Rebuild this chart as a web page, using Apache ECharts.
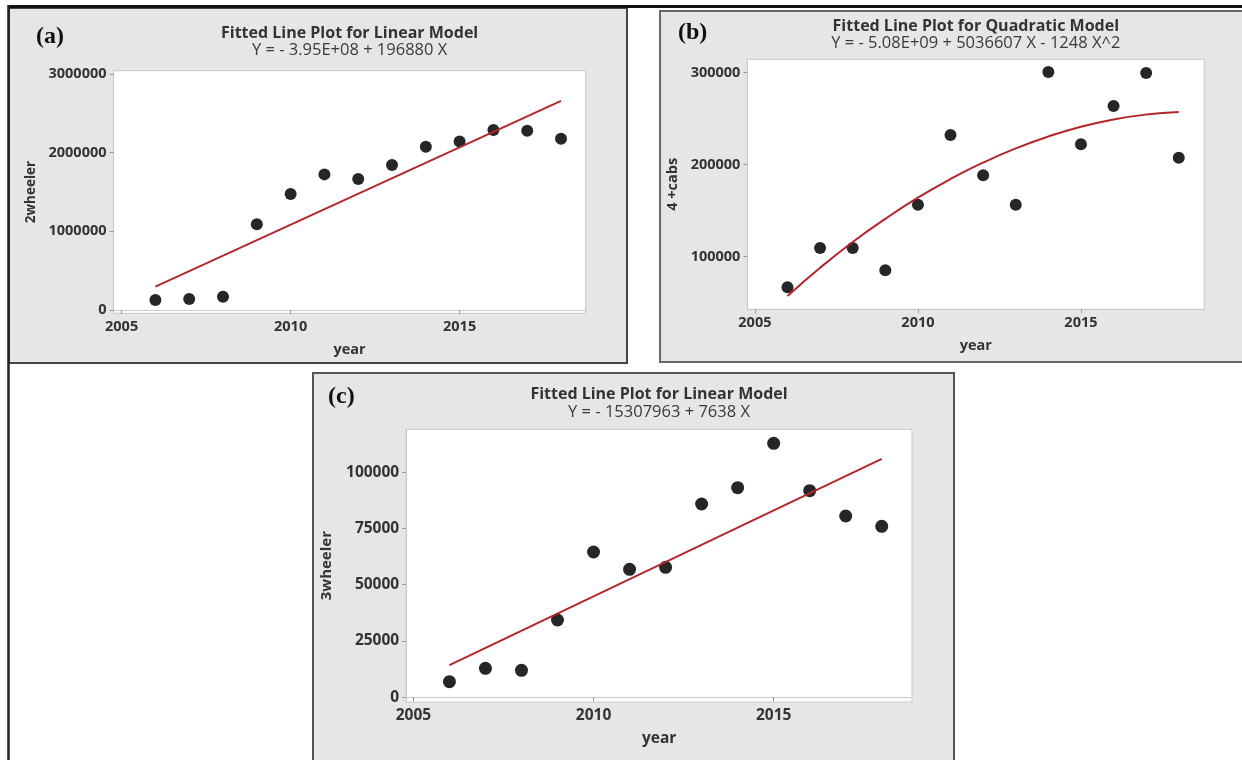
<!DOCTYPE html>
<html><head><meta charset="utf-8">
<script src="https://cdn.jsdelivr.net/npm/echarts@6/dist/echarts.min.js"></script>
<style>html,body{margin:0;padding:0;background:#fff}#c{width:1242px;height:760px}</style>
</head><body><div id="c"></div>
<script>
const years = [2006,2007,2008,2009,2010,2011,2012,2013,2014,2015,2016,2017,2018];
const twoWheeler = [127000,140000,169000,1089000,1474000,1724000,1665000,1842000,2075000,2143000,2287000,2278000,2177000];
const cabs = [66700,109500,109500,85200,156500,232300,188500,156500,300800,222200,263800,299700,207600];
const threeWheeler = [6930,12880,11990,34320,64520,56840,57730,85830,93070,112790,91740,80500,75930];
const fitYearsLinear = [2006,2018];
const fitTwoWheeler = [296000,2658000];
const fitThreeWheeler = [14300,105900];
const fitCabs = [57300,88000,116000,141200,164200,184500,202300,217700,230700,241200,249200,254500,257200];
const xTicks = [2005,2010,2015];
const yTicksA = [0,1000000,2000000,3000000];
const yTicksB = [100000,200000,300000];
const yTicksC = [0,25000,50000,75000,100000];
const titles = ['Fitted Line Plot for Linear Model','Fitted Line Plot for Quadratic Model','Fitted Line Plot for Linear Model'];
const subtitles = ['Y = - 3.95E+08 + 196880 X','Y = - 5.08E+09 + 5036607 X - 1248 X^2','Y = - 15307963 + 7638 X'];
const yNames = ['2wheeler','4 +cabs','3wheeler'];
const panelTags = ['(a)','(b)','(c)'];

const FONT = "'Open Sans', 'DejaVu Sans', sans-serif";
const grids = [
  {left:113.5, top:70.7, width:472.2, height:242.6},
  {left:747.4, top:59.3, width:456.8, height:250},
  {left:406.2, top:429.3, width:505.8, height:272.7}
];
const xRanges = [[2004.76,2018.73],[2004.77,2018.78],[2004.8,2018.84]];
const yRanges = [[-42000,3042000],[42830,314565],[-2090,119000]];
const yTicks = [yTicksA,yTicksB,yTicksC];
const fs = [14.5,14.5,15.5];
const nameFs = [13.5,14.5,15];
const yearFs = [14.5,14.5,15.5];

function xAxis(i){
  return {type:'value', gridIndex:i, min:xRanges[i][0], max:xRanges[i][1],
    name:'year', nameLocation:'middle', nameGap:[29,29,29][i],
    nameTextStyle:{fontFamily:FONT, fontWeight:'bold', fontSize:yearFs[i], color:'#333'},
    axisLine:{show:true, lineStyle:{color:'#c8c8c8', width:1}},
    axisTick:{show:true, length:4, customValues:xTicks, lineStyle:{color:'#999'}},
    axisLabel:{customValues:xTicks, formatter:v=>String(Math.round(v)), fontFamily:FONT, fontWeight:'bold', fontSize:fs[i], color:'#333', margin:6},
    splitLine:{show:false}};
}
function yAxis(i){
  return {type:'value', gridIndex:i, min:yRanges[i][0], max:yRanges[i][1],
    name:yNames[i], nameLocation:'middle', nameRotate:90, nameGap:[75,67,72][i],
    nameTextStyle:{fontFamily:FONT, fontWeight:'bold', fontSize:nameFs[i], color:'#333'},
    axisLine:{show:true, lineStyle:{color:'#c8c8c8', width:1}},
    axisTick:{show:true, length:4, customValues:yTicks[i], lineStyle:{color:'#999'}},
    axisLabel:{customValues:yTicks[i], formatter:v=>String(Math.round(v)), fontFamily:FONT, fontWeight:'bold', fontSize:fs[i], color:'#333', margin:7},
    splitLine:{show:false}};
}
function scatter(i, vals){
  return {type:'scatter', xAxisIndex:i, yAxisIndex:i, data:years.map((y,k)=>[y,vals[k]]),
    symbol:'circle', symbolSize:[12,12,13][i], itemStyle:{color:'#262626', opacity:1}, z:3};
}
function fitLine(i, xs, vals, smooth){
  return {type:'line', xAxisIndex:i, yAxisIndex:i, data:xs.map((y,k)=>[y,vals[k]]),
    showSymbol:false, smooth:smooth, lineStyle:{color:'#b3262c', width:2}, z:4};
}
const titleTops = [25,18,386];
const titleCenters = [349.6,975.8,659];
const option = {
  backgroundColor:'#ffffff',
  animation:false,
  title: [0,1,2].map(i=>({text:titles[i], subtext:subtitles[i], left:titleCenters[i], top:titleTops[i], textAlign:'center', padding:0, itemGap:[1,1,2][i],
    textStyle:{fontFamily:FONT, fontWeight:'bold', fontSize:16, color:'#333'},
    subtextStyle:{fontFamily:FONT, fontWeight:'normal', fontSize:16.5, color:'#3a3a3a'}})),
  grid: grids.map(g=>Object.assign({show:true, backgroundColor:'#ffffff', borderColor:'#c8c8c8', borderWidth:1, containLabel:false}, g)),
  xAxis:[0,1,2].map(xAxis),
  yAxis:[0,1,2].map(yAxis),
  series:[
    scatter(0, twoWheeler), fitLine(0, fitYearsLinear, fitTwoWheeler, false),
    scatter(1, cabs), fitLine(1, years, fitCabs, 0.5),
    scatter(2, threeWheeler), fitLine(2, fitYearsLinear, fitThreeWheeler, false)
  ],
  graphic:{elements:[
    {type:'rect', z:-20, shape:{x:9, y:8, width:618, height:355}, style:{fill:'#e6e6e6', stroke:'#444', lineWidth:2}},
    {type:'rect', z:-20, shape:{x:660, y:11, width:600, height:351}, style:{fill:'#e6e6e6', stroke:'#666', lineWidth:2}},
    {type:'rect', z:-20, shape:{x:313, y:373, width:641, height:400}, style:{fill:'#e6e6e6', stroke:'#555', lineWidth:2}},
    {type:'line', z:-10, shape:{x1:8, y1:6.5, x2:1242, y2:6.5}, style:{stroke:'#111', lineWidth:3}},
    {type:'line', z:-10, shape:{x1:8.5, y1:5, x2:8.5, y2:760}, style:{stroke:'#222', lineWidth:2.5}},
    {type:'text', z:10, x:36, y:37, style:{text:panelTags[0], font:"bold 24px 'Liberation Serif', serif", fill:'#111', verticalAlign:'middle'}},
    {type:'text', z:10, x:678, y:33, style:{text:panelTags[1], font:"bold 24px 'Liberation Serif', serif", fill:'#111', verticalAlign:'middle'}},
    {type:'text', z:10, x:328, y:397, style:{text:panelTags[2], font:"bold 24px 'Liberation Serif', serif", fill:'#111', verticalAlign:'middle'}}
  ]}
};
const chart = echarts.init(document.getElementById('c'), null, {renderer:'canvas'});
chart.setOption(option);
</script></body></html>
